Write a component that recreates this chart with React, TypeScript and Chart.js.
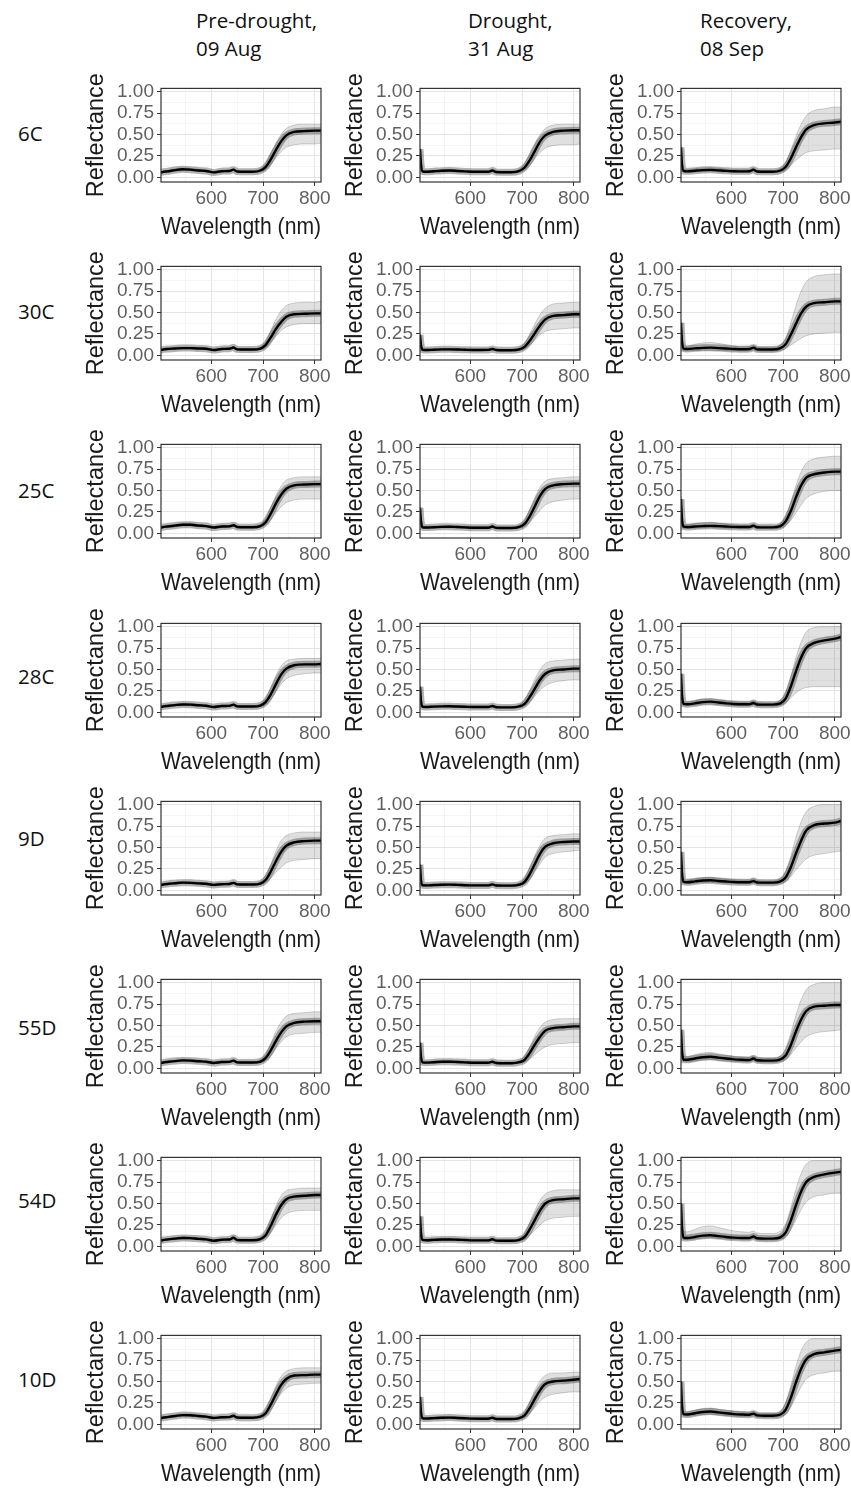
import React, { useEffect, useRef } from "react";
import { Chart, registerables } from "chart.js";

Chart.register(...registerables);

// ---------- data ----------
const WAVELENGTHS = [503, 505, 508, 515, 530, 545, 560, 575, 590, 605, 620, 635, 643, 650, 665, 680, 695, 705, 715, 725, 735, 745, 760, 780, 800, 812];
const X_TICKS = [550, 600, 650, 700, 750, 800];
const X_LABELLED = [600, 700, 800];
const Y_TICKS = [0, 0.125, 0.25, 0.375, 0.5, 0.625, 0.75, 0.875, 1];
const Y_LABELLED = [0, 0.25, 0.5, 0.75, 1];
const COLUMN_TITLES = [["Pre-drought,", "09 Aug"], ["Drought,", "31 Aug"], ["Recovery,", "08 Sep"]];
const ROW_LABELS = ["6C", "30C", "25C", "28C", "9D", "55D", "54D", "10D"];

// 6C
const pre6C = [0.06,0.06,0.065,0.07,0.085,0.095,0.09,0.08,0.075,0.058,0.072,0.075,0.09,0.068,0.065,0.065,0.08,0.12,0.21,0.32,0.42,0.49,0.53,0.54,0.545,0.545];
const pre6C_hi = [0.07,0.07,0.075,0.08,0.1,0.11,0.105,0.095,0.085,0.07,0.082,0.085,0.1,0.08,0.075,0.075,0.1,0.16,0.28,0.4,0.5,0.57,0.61,0.62,0.62,0.62];
const pre6C_lo = [0.05,0.05,0.055,0.06,0.07,0.08,0.078,0.068,0.065,0.048,0.062,0.065,0.078,0.058,0.056,0.056,0.065,0.09,0.15,0.23,0.3,0.35,0.38,0.39,0.39,0.4];
const dr6C = [0.33,0.15,0.07,0.065,0.072,0.078,0.08,0.075,0.07,0.065,0.065,0.065,0.08,0.062,0.06,0.06,0.075,0.115,0.2,0.31,0.42,0.49,0.53,0.545,0.55,0.55];
const dr6C_hi = [0.36,0.2,0.085,0.078,0.085,0.09,0.092,0.088,0.082,0.077,0.076,0.076,0.092,0.074,0.072,0.072,0.095,0.16,0.28,0.4,0.5,0.57,0.61,0.62,0.62,0.62];
const dr6C_lo = [0.28,0.1,0.058,0.055,0.06,0.066,0.068,0.064,0.06,0.055,0.055,0.055,0.068,0.052,0.05,0.05,0.06,0.085,0.14,0.22,0.29,0.34,0.37,0.38,0.38,0.39];
const rec6C = [0.35,0.15,0.075,0.07,0.078,0.085,0.088,0.082,0.076,0.072,0.07,0.072,0.09,0.068,0.065,0.065,0.08,0.12,0.22,0.35,0.47,0.56,0.61,0.63,0.64,0.65];
const rec6C_hi = [0.4,0.22,0.095,0.09,0.1,0.11,0.112,0.105,0.095,0.09,0.088,0.09,0.105,0.085,0.08,0.08,0.105,0.17,0.32,0.48,0.62,0.72,0.78,0.8,0.82,0.82];
const rec6C_lo = [0.28,0.1,0.06,0.058,0.062,0.068,0.07,0.066,0.062,0.058,0.057,0.058,0.07,0.055,0.053,0.053,0.062,0.085,0.14,0.2,0.25,0.29,0.31,0.32,0.33,0.33];

// 30C
const pre30C = [0.065,0.065,0.07,0.075,0.08,0.085,0.085,0.08,0.078,0.062,0.075,0.078,0.092,0.07,0.068,0.068,0.08,0.12,0.21,0.31,0.39,0.45,0.48,0.485,0.49,0.49];
const pre30C_hi = [0.075,0.075,0.08,0.085,0.092,0.098,0.098,0.092,0.088,0.072,0.085,0.088,0.102,0.08,0.078,0.078,0.1,0.16,0.29,0.42,0.52,0.58,0.61,0.62,0.62,0.63];
const pre30C_lo = [0.055,0.055,0.06,0.065,0.07,0.074,0.074,0.07,0.068,0.052,0.065,0.068,0.08,0.06,0.058,0.058,0.066,0.09,0.15,0.22,0.29,0.33,0.36,0.37,0.37,0.37];
const dr30C = [0.24,0.12,0.065,0.062,0.066,0.07,0.07,0.068,0.065,0.063,0.063,0.064,0.075,0.062,0.06,0.06,0.07,0.1,0.17,0.26,0.35,0.42,0.46,0.47,0.48,0.48];
const dr30C_hi = [0.27,0.16,0.08,0.075,0.078,0.082,0.082,0.08,0.077,0.075,0.075,0.076,0.088,0.074,0.072,0.072,0.088,0.14,0.25,0.37,0.48,0.55,0.6,0.61,0.62,0.62];
const dr30C_lo = [0.2,0.09,0.055,0.052,0.056,0.06,0.06,0.058,0.055,0.053,0.053,0.054,0.064,0.052,0.05,0.05,0.058,0.075,0.12,0.18,0.24,0.28,0.3,0.31,0.32,0.32];
const rec30C = [0.38,0.16,0.08,0.075,0.082,0.088,0.09,0.085,0.08,0.075,0.072,0.074,0.09,0.07,0.068,0.068,0.085,0.13,0.24,0.37,0.49,0.57,0.61,0.62,0.63,0.63];
const rec30C_hi = [0.42,0.25,0.12,0.11,0.13,0.145,0.15,0.14,0.125,0.11,0.1,0.1,0.115,0.095,0.09,0.09,0.12,0.2,0.38,0.58,0.75,0.86,0.92,0.94,0.95,0.95];
const rec30C_lo = [0.3,0.1,0.055,0.052,0.056,0.06,0.06,0.058,0.055,0.052,0.05,0.052,0.062,0.05,0.048,0.048,0.058,0.08,0.12,0.16,0.2,0.23,0.25,0.26,0.27,0.27];

// 25C
const pre25C = [0.07,0.07,0.075,0.08,0.09,0.1,0.1,0.09,0.085,0.068,0.08,0.082,0.095,0.075,0.072,0.072,0.085,0.13,0.23,0.35,0.45,0.52,0.56,0.57,0.575,0.575];
const pre25C_hi = [0.08,0.08,0.085,0.09,0.102,0.115,0.115,0.104,0.096,0.078,0.09,0.092,0.106,0.085,0.082,0.082,0.105,0.17,0.3,0.44,0.55,0.62,0.65,0.66,0.66,0.66];
const pre25C_lo = [0.06,0.06,0.065,0.07,0.078,0.088,0.088,0.078,0.074,0.058,0.07,0.072,0.084,0.065,0.062,0.062,0.072,0.1,0.16,0.24,0.31,0.36,0.39,0.4,0.4,0.4];
const dr25C = [0.3,0.14,0.07,0.068,0.072,0.076,0.078,0.074,0.07,0.066,0.066,0.066,0.08,0.064,0.062,0.062,0.075,0.11,0.2,0.32,0.44,0.52,0.56,0.575,0.58,0.58];
const dr25C_hi = [0.33,0.18,0.085,0.08,0.084,0.088,0.09,0.086,0.082,0.078,0.078,0.078,0.092,0.076,0.074,0.074,0.095,0.15,0.28,0.42,0.54,0.61,0.64,0.65,0.66,0.66];
const dr25C_lo = [0.25,0.1,0.058,0.056,0.06,0.064,0.066,0.062,0.058,0.055,0.055,0.055,0.068,0.053,0.051,0.051,0.06,0.08,0.13,0.2,0.27,0.33,0.37,0.39,0.4,0.4];
const rec25C = [0.4,0.16,0.08,0.075,0.08,0.085,0.088,0.084,0.08,0.076,0.074,0.075,0.09,0.072,0.07,0.07,0.085,0.14,0.26,0.42,0.56,0.65,0.69,0.71,0.72,0.72];
const rec25C_hi = [0.44,0.24,0.11,0.1,0.115,0.125,0.13,0.12,0.11,0.1,0.095,0.095,0.11,0.09,0.086,0.086,0.115,0.2,0.36,0.56,0.72,0.82,0.87,0.89,0.9,0.9];
const rec25C_lo = [0.32,0.1,0.06,0.056,0.06,0.064,0.066,0.063,0.06,0.057,0.055,0.056,0.068,0.054,0.052,0.052,0.062,0.09,0.15,0.24,0.33,0.41,0.46,0.49,0.5,0.5];

// 28C
const pre28C = [0.065,0.065,0.07,0.075,0.085,0.092,0.09,0.083,0.078,0.062,0.074,0.076,0.09,0.07,0.068,0.068,0.08,0.12,0.21,0.33,0.44,0.51,0.55,0.56,0.56,0.565];
const pre28C_hi = [0.075,0.075,0.08,0.085,0.097,0.105,0.103,0.095,0.088,0.072,0.084,0.086,0.1,0.08,0.078,0.078,0.1,0.16,0.29,0.43,0.54,0.6,0.62,0.63,0.63,0.63];
const pre28C_lo = [0.055,0.055,0.06,0.065,0.074,0.08,0.078,0.072,0.068,0.052,0.064,0.066,0.078,0.06,0.058,0.058,0.066,0.09,0.15,0.24,0.33,0.39,0.43,0.45,0.46,0.46];
const dr28C = [0.3,0.13,0.065,0.063,0.067,0.07,0.071,0.068,0.065,0.062,0.062,0.062,0.075,0.06,0.058,0.058,0.07,0.1,0.18,0.28,0.38,0.45,0.49,0.5,0.51,0.51];
const dr28C_hi = [0.33,0.17,0.08,0.075,0.079,0.082,0.083,0.08,0.077,0.074,0.074,0.074,0.087,0.072,0.07,0.07,0.09,0.14,0.26,0.39,0.5,0.57,0.6,0.61,0.62,0.62];
const dr28C_lo = [0.25,0.09,0.055,0.053,0.057,0.06,0.061,0.058,0.055,0.052,0.052,0.052,0.064,0.05,0.048,0.048,0.058,0.075,0.12,0.19,0.26,0.31,0.35,0.37,0.38,0.38];
const rec28C = [0.45,0.2,0.1,0.095,0.105,0.12,0.125,0.115,0.105,0.098,0.095,0.095,0.11,0.092,0.09,0.09,0.105,0.16,0.3,0.48,0.64,0.75,0.81,0.84,0.86,0.88];
const rec28C_hi = [0.5,0.28,0.13,0.12,0.135,0.155,0.16,0.148,0.135,0.125,0.12,0.12,0.135,0.115,0.11,0.11,0.14,0.23,0.42,0.64,0.82,0.94,0.99,1.0,1.0,1.0];
const rec28C_lo = [0.38,0.14,0.08,0.076,0.084,0.095,0.098,0.09,0.084,0.078,0.076,0.076,0.088,0.074,0.072,0.072,0.082,0.11,0.17,0.23,0.27,0.29,0.3,0.3,0.3,0.3];

// 9D
const pre9D = [0.065,0.065,0.07,0.075,0.083,0.09,0.088,0.082,0.077,0.064,0.072,0.074,0.088,0.07,0.068,0.068,0.08,0.12,0.22,0.34,0.45,0.52,0.56,0.575,0.58,0.58];
const pre9D_hi = [0.075,0.075,0.08,0.085,0.095,0.103,0.1,0.094,0.088,0.074,0.082,0.084,0.098,0.08,0.078,0.078,0.1,0.17,0.3,0.46,0.58,0.64,0.67,0.68,0.68,0.68];
const pre9D_lo = [0.055,0.055,0.06,0.065,0.072,0.078,0.076,0.07,0.066,0.054,0.062,0.064,0.076,0.06,0.058,0.058,0.066,0.09,0.14,0.21,0.27,0.32,0.35,0.36,0.37,0.37];
const dr9D = [0.3,0.12,0.06,0.058,0.062,0.066,0.067,0.064,0.06,0.058,0.058,0.058,0.07,0.056,0.055,0.055,0.066,0.1,0.19,0.31,0.43,0.51,0.55,0.565,0.57,0.57];
const dr9D_hi = [0.33,0.16,0.075,0.07,0.074,0.078,0.079,0.076,0.072,0.07,0.07,0.07,0.082,0.068,0.066,0.066,0.085,0.14,0.27,0.41,0.53,0.61,0.64,0.65,0.66,0.66];
const dr9D_lo = [0.25,0.08,0.05,0.048,0.052,0.056,0.057,0.054,0.05,0.048,0.048,0.048,0.06,0.046,0.045,0.045,0.054,0.075,0.13,0.22,0.31,0.39,0.43,0.45,0.46,0.47];
const rec9D = [0.45,0.2,0.1,0.095,0.105,0.115,0.118,0.11,0.103,0.097,0.095,0.095,0.108,0.092,0.09,0.09,0.105,0.15,0.27,0.43,0.58,0.7,0.76,0.78,0.79,0.81];
const rec9D_hi = [0.5,0.27,0.13,0.12,0.135,0.148,0.152,0.142,0.132,0.124,0.12,0.12,0.134,0.115,0.11,0.11,0.14,0.22,0.4,0.62,0.8,0.92,0.98,1.0,1.0,1.0];
const rec9D_lo = [0.38,0.14,0.08,0.076,0.084,0.092,0.094,0.088,0.082,0.077,0.076,0.076,0.086,0.074,0.072,0.072,0.082,0.1,0.16,0.24,0.31,0.37,0.41,0.43,0.45,0.46];

// 55D
const pre55D = [0.065,0.065,0.07,0.075,0.085,0.093,0.09,0.083,0.078,0.063,0.074,0.076,0.09,0.07,0.068,0.068,0.08,0.12,0.21,0.32,0.42,0.49,0.53,0.545,0.55,0.55];
const pre55D_hi = [0.075,0.075,0.08,0.085,0.098,0.107,0.104,0.096,0.089,0.073,0.085,0.087,0.1,0.08,0.078,0.078,0.1,0.16,0.29,0.43,0.54,0.61,0.64,0.65,0.66,0.66];
const pre55D_lo = [0.055,0.055,0.06,0.065,0.074,0.08,0.078,0.072,0.068,0.053,0.064,0.066,0.078,0.06,0.058,0.058,0.066,0.09,0.15,0.23,0.31,0.37,0.4,0.41,0.42,0.42];
const dr55D = [0.3,0.13,0.07,0.067,0.072,0.077,0.078,0.074,0.07,0.066,0.065,0.065,0.078,0.062,0.06,0.06,0.072,0.1,0.18,0.28,0.37,0.44,0.47,0.48,0.49,0.49];
const dr55D_hi = [0.33,0.17,0.085,0.08,0.085,0.09,0.092,0.087,0.082,0.078,0.077,0.077,0.09,0.074,0.072,0.072,0.09,0.14,0.25,0.38,0.48,0.54,0.57,0.58,0.58,0.58];
const dr55D_lo = [0.25,0.09,0.058,0.055,0.06,0.065,0.066,0.062,0.058,0.055,0.054,0.054,0.066,0.052,0.05,0.05,0.058,0.075,0.11,0.16,0.21,0.25,0.28,0.29,0.3,0.3];
const rec55D = [0.45,0.2,0.1,0.1,0.115,0.13,0.135,0.125,0.115,0.105,0.1,0.098,0.115,0.095,0.09,0.09,0.105,0.15,0.27,0.43,0.57,0.67,0.72,0.73,0.74,0.74];
const rec55D_hi = [0.5,0.28,0.14,0.14,0.16,0.18,0.185,0.17,0.155,0.14,0.132,0.128,0.145,0.122,0.115,0.115,0.145,0.23,0.41,0.62,0.8,0.92,0.98,1.0,1.0,1.0];
const rec55D_lo = [0.38,0.14,0.08,0.078,0.088,0.1,0.104,0.096,0.088,0.082,0.078,0.076,0.09,0.074,0.07,0.07,0.08,0.1,0.16,0.24,0.31,0.37,0.41,0.43,0.44,0.45];

// 54D
const pre54D = [0.07,0.07,0.075,0.08,0.09,0.098,0.096,0.088,0.082,0.066,0.078,0.08,0.1,0.074,0.072,0.072,0.085,0.13,0.24,0.37,0.48,0.55,0.58,0.59,0.6,0.6];
const pre54D_hi = [0.08,0.08,0.085,0.09,0.102,0.112,0.11,0.1,0.093,0.076,0.088,0.09,0.112,0.084,0.082,0.082,0.105,0.17,0.31,0.47,0.59,0.65,0.67,0.68,0.68,0.68];
const pre54D_lo = [0.06,0.06,0.065,0.07,0.078,0.085,0.083,0.076,0.071,0.056,0.068,0.07,0.088,0.064,0.062,0.062,0.072,0.1,0.16,0.25,0.33,0.38,0.41,0.42,0.42,0.42];
const dr54D = [0.35,0.15,0.075,0.072,0.076,0.08,0.081,0.078,0.074,0.07,0.07,0.07,0.083,0.067,0.065,0.065,0.077,0.11,0.2,0.31,0.42,0.5,0.54,0.55,0.56,0.56];
const dr54D_hi = [0.38,0.2,0.09,0.085,0.089,0.093,0.094,0.09,0.086,0.082,0.082,0.082,0.095,0.079,0.077,0.077,0.096,0.15,0.28,0.42,0.54,0.61,0.65,0.66,0.66,0.66];
const dr54D_lo = [0.29,0.1,0.062,0.06,0.064,0.068,0.069,0.066,0.062,0.058,0.058,0.058,0.07,0.056,0.054,0.054,0.063,0.08,0.13,0.19,0.25,0.3,0.33,0.34,0.35,0.35];
const rec54D = [0.5,0.22,0.1,0.098,0.11,0.125,0.13,0.12,0.11,0.102,0.098,0.098,0.115,0.094,0.09,0.09,0.105,0.16,0.3,0.48,0.64,0.75,0.81,0.84,0.86,0.87];
const rec54D_hi = [0.55,0.32,0.17,0.17,0.2,0.23,0.24,0.22,0.2,0.18,0.17,0.165,0.18,0.155,0.15,0.15,0.18,0.26,0.45,0.67,0.85,0.96,1.0,1.0,1.0,1.0];
const rec54D_lo = [0.42,0.15,0.08,0.078,0.086,0.096,0.1,0.093,0.086,0.08,0.077,0.077,0.09,0.074,0.071,0.071,0.082,0.11,0.19,0.31,0.43,0.52,0.58,0.6,0.62,0.62];

// 10D
const pre10D = [0.075,0.075,0.08,0.085,0.097,0.108,0.107,0.098,0.09,0.075,0.083,0.085,0.1,0.08,0.078,0.078,0.09,0.13,0.23,0.35,0.46,0.53,0.57,0.575,0.58,0.58];
const pre10D_hi = [0.085,0.085,0.09,0.095,0.11,0.122,0.12,0.11,0.1,0.085,0.093,0.095,0.11,0.09,0.088,0.088,0.11,0.17,0.3,0.45,0.56,0.62,0.65,0.66,0.66,0.66];
const pre10D_lo = [0.065,0.065,0.07,0.075,0.085,0.095,0.094,0.086,0.08,0.065,0.073,0.075,0.09,0.07,0.068,0.068,0.076,0.1,0.17,0.27,0.36,0.42,0.46,0.47,0.48,0.48];
const dr10D = [0.32,0.14,0.07,0.068,0.073,0.078,0.079,0.075,0.071,0.067,0.066,0.066,0.078,0.063,0.062,0.062,0.074,0.105,0.19,0.3,0.4,0.47,0.5,0.51,0.52,0.53];
const dr10D_hi = [0.35,0.18,0.085,0.08,0.085,0.09,0.091,0.087,0.083,0.079,0.078,0.078,0.09,0.075,0.074,0.074,0.092,0.145,0.26,0.4,0.51,0.57,0.6,0.6,0.61,0.61];
const dr10D_lo = [0.26,0.1,0.058,0.056,0.061,0.066,0.067,0.063,0.059,0.055,0.054,0.054,0.066,0.051,0.05,0.05,0.06,0.08,0.13,0.2,0.27,0.32,0.35,0.37,0.38,0.38];
const rec10D = [0.5,0.22,0.12,0.115,0.13,0.145,0.15,0.14,0.13,0.12,0.115,0.112,0.125,0.105,0.1,0.1,0.115,0.17,0.31,0.49,0.65,0.76,0.82,0.84,0.86,0.87];
const rec10D_hi = [0.55,0.3,0.15,0.145,0.165,0.185,0.19,0.178,0.165,0.152,0.145,0.14,0.155,0.13,0.125,0.125,0.15,0.25,0.45,0.68,0.86,0.96,1.0,1.0,1.0,1.0];
const rec10D_lo = [0.42,0.16,0.1,0.095,0.105,0.115,0.118,0.11,0.102,0.095,0.092,0.09,0.1,0.085,0.082,0.082,0.092,0.12,0.2,0.32,0.44,0.53,0.58,0.6,0.62,0.62];

// rows x columns: [mean, upper envelope, lower envelope]
const PANELS = [
  [[pre6C, pre6C_hi, pre6C_lo], [dr6C, dr6C_hi, dr6C_lo], [rec6C, rec6C_hi, rec6C_lo]],
  [[pre30C, pre30C_hi, pre30C_lo], [dr30C, dr30C_hi, dr30C_lo], [rec30C, rec30C_hi, rec30C_lo]],
  [[pre25C, pre25C_hi, pre25C_lo], [dr25C, dr25C_hi, dr25C_lo], [rec25C, rec25C_hi, rec25C_lo]],
  [[pre28C, pre28C_hi, pre28C_lo], [dr28C, dr28C_hi, dr28C_lo], [rec28C, rec28C_hi, rec28C_lo]],
  [[pre9D, pre9D_hi, pre9D_lo], [dr9D, dr9D_hi, dr9D_lo], [rec9D, rec9D_hi, rec9D_lo]],
  [[pre55D, pre55D_hi, pre55D_lo], [dr55D, dr55D_hi, dr55D_lo], [rec55D, rec55D_hi, rec55D_lo]],
  [[pre54D, pre54D_hi, pre54D_lo], [dr54D, dr54D_hi, dr54D_lo], [rec54D, rec54D_hi, rec54D_lo]],
  [[pre10D, pre10D_hi, pre10D_lo], [dr10D, dr10D_hi, dr10D_lo], [rec10D, rec10D_hi, rec10D_lo]],
];

// ---------- layout ----------
const PLOT_LEFT = [161, 420, 681];
const PLOT_TOP = [86, 264, 442, 621, 799, 977, 1155, 1333];
const PLOT_W = 160;
const PLOT_H = 96;
const PAD_L = 84;
const PAD_T = 12;
const PAD_R = 14;
const PAD_B = 72;
const HEADER_LEFT = [196, 468, 700];
const ROW_LABEL_Y = [133, 311, 490, 676, 838, 1027, 1200, 1379];

const AXIS_FONT = "'Liberation Sans', Arial, sans-serif";
const TEXT_FONT = "'Open Sans', 'Noto Sans', sans-serif";

const panelBorder = {
  id: "panelBorder",
  afterDraw(chart: any) {
    const { ctx, chartArea } = chart;
    const { left, top, right, bottom } = chartArea;
    ctx.save();
    ctx.strokeStyle = "#333333";
    ctx.lineWidth = 1.2;
    ctx.strokeRect(left, top, right - left, bottom - top);
    ctx.restore();
  },
};

const toPts = (arr: number[]) => WAVELENGTHS.map((w, i) => ({ x: w, y: arr[i] }));

function Panel({ mean, hi, lo, left, top }: { mean: number[]; hi: number[]; lo: number[]; left: number; top: number }) {
  const ref = useRef<HTMLCanvasElement | null>(null);
  useEffect(() => {
    if (!ref.current) return;
    const chart = new Chart(ref.current, {
      type: "line",
      data: {
        datasets: [
          { data: toPts(mean), borderColor: "#000000", borderWidth: 2.4, pointRadius: 0, fill: false, cubicInterpolationMode: "monotone", order: 0 },
          { data: toPts(mean), borderColor: "rgba(0,0,0,0.3)", borderWidth: 7, pointRadius: 0, fill: false, cubicInterpolationMode: "monotone", order: 1 },
          { data: toPts(hi), borderColor: "rgba(0,0,0,0.22)", borderWidth: 0.8, pointRadius: 0, fill: 3, backgroundColor: "rgba(0,0,0,0.12)", cubicInterpolationMode: "monotone", order: 2 },
          { data: toPts(lo), borderColor: "rgba(0,0,0,0.22)", borderWidth: 0.8, pointRadius: 0, fill: false, cubicInterpolationMode: "monotone", order: 3 },
        ],
      } as any,
      options: {
        animation: false,
        responsive: false,
        events: [],
        layout: { padding: { left: 0, top: PAD_T, right: PAD_R, bottom: 0 } },
        plugins: { legend: { display: false }, tooltip: { enabled: false } },
        scales: {
          x: {
            type: "linear",
            min: 503,
            max: 812,
            afterBuildTicks: (s: any) => { s.ticks = X_TICKS.map((v) => ({ value: v })); },
            afterFit: (s: any) => { s.height = PAD_B; },
            border: { display: false },
            grid: {
              color: (c: any) => (X_LABELLED.includes(c.tick?.value) ? "#e4e4e4" : "#f0f0f0"),
              lineWidth: (c: any) => (X_LABELLED.includes(c.tick?.value) ? 1 : 0.7),
              tickColor: (c: any) => (X_LABELLED.includes(c.tick?.value) ? "#333333" : "rgba(0,0,0,0)"),
              tickLength: 4,
              drawTicks: true,
            },
            ticks: {
              autoSkip: false,
              maxRotation: 0,
              padding: 1,
              color: "#5f5f5f",
              font: { family: AXIS_FONT, size: 19 },
              callback: (v: any) => (X_LABELLED.includes(v) ? String(v) : ""),
            },
            title: { display: true, text: "Wavelength (nm)", color: "#1a1a1a", font: { family: AXIS_FONT, size: 23.8 }, padding: { top: 0, bottom: 12 } },
          },
          y: {
            type: "linear",
            min: -0.054,
            max: 1.038,
            afterBuildTicks: (s: any) => { s.ticks = Y_TICKS.map((v) => ({ value: v })); },
            afterFit: (s: any) => { s.width = PAD_L; },
            border: { display: false },
            grid: {
              color: (c: any) => (Y_LABELLED.includes(c.tick?.value) ? "#e4e4e4" : "#f0f0f0"),
              lineWidth: (c: any) => (Y_LABELLED.includes(c.tick?.value) ? 1 : 0.7),
              tickColor: (c: any) => (Y_LABELLED.includes(c.tick?.value) ? "#333333" : "rgba(0,0,0,0)"),
              tickLength: 4,
              drawTicks: true,
            },
            ticks: {
              autoSkip: false,
              padding: 3,
              color: "#5f5f5f",
              font: { family: AXIS_FONT, size: 19 },
              callback: (v: any) => (Y_LABELLED.includes(v) ? Number(v).toFixed(2) : ""),
            },
            title: { display: true, text: "Reflectance", color: "#1a1a1a", font: { family: AXIS_FONT, size: 23.5 }, padding: { top: 5, bottom: 0 } },
          },
        },
      } as any,
      plugins: [panelBorder],
    });
    return () => chart.destroy();
  }, [mean, hi, lo]);

  const w = PAD_L + PLOT_W + PAD_R;
  const h = PAD_T + PLOT_H + PAD_B;
  return (
    <canvas
      ref={ref}
      width={w}
      height={h}
      style={{ position: "absolute", left: left - PAD_L, top: top - PAD_T, width: w, height: h }}
    />
  );
}

export default function App() {
  return (
    <div style={{ position: "absolute", left: 0, top: 0, width: 851, height: 1491, background: "#ffffff", overflow: "hidden" }}>
      {COLUMN_TITLES.map((lines, c) => (
        <div
          key={"h" + c}
          style={{ position: "absolute", left: HEADER_LEFT[c], top: 6, fontFamily: TEXT_FONT, fontSize: 20.5, lineHeight: "28px", color: "#111", whiteSpace: "nowrap" }}
        >
          {lines[0]}
          <br />
          {lines[1]}
        </div>
      ))}
      {ROW_LABELS.map((lab, r) => (
        <div
          key={"r" + r}
          style={{ position: "absolute", left: 18, top: ROW_LABEL_Y[r] - 14, fontFamily: TEXT_FONT, fontSize: 20.5, lineHeight: "28px", color: "#111" }}
        >
          {lab}
        </div>
      ))}
      {PANELS.map((row, r) =>
        row.map((p, c) => (
          <Panel key={r + "-" + c} mean={p[0]} hi={p[1]} lo={p[2]} left={PLOT_LEFT[c]} top={PLOT_TOP[r]} />
        ))
      )}
    </div>
  );
}
